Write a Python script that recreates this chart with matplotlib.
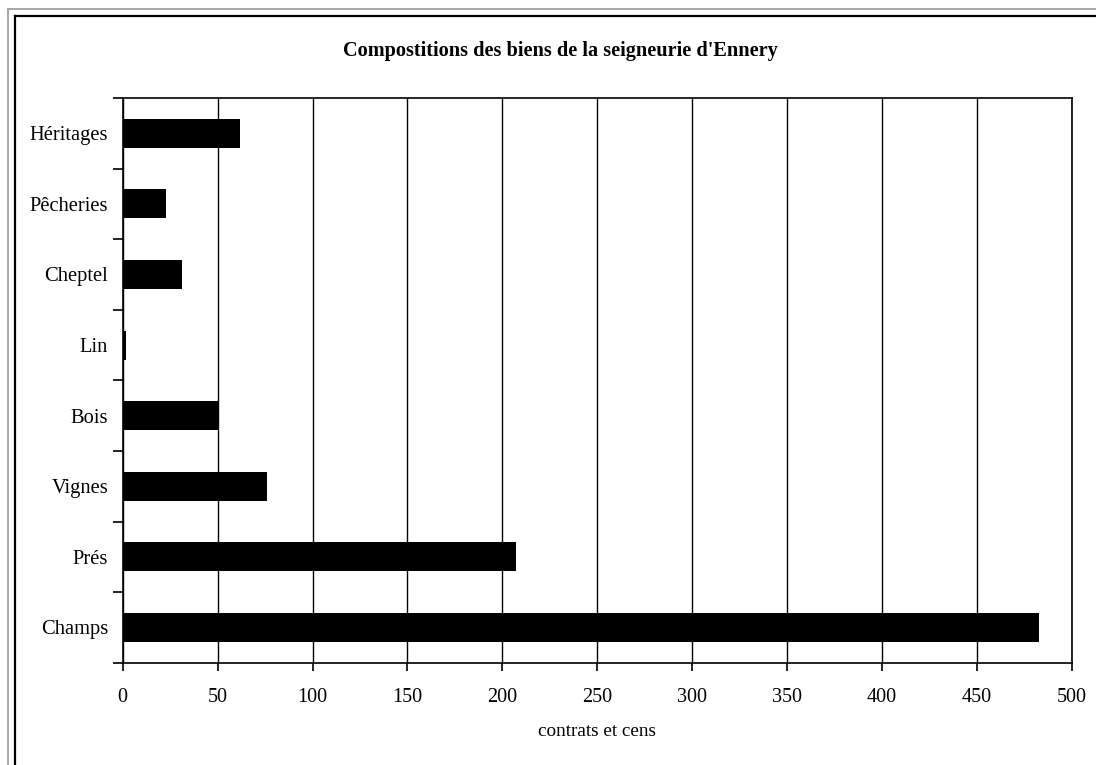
import matplotlib
matplotlib.use("Agg")
import matplotlib.pyplot as plt
from matplotlib.lines import Line2D

categories = ["Champs", "Prés", "Vignes", "Bois", "Lin", "Cheptel", "Pêcheries", "Héritages"]
values = [483, 207, 76, 50, 2, 31, 23, 62]
xticks = [0, 50, 100, 150, 200, 250, 300, 350, 400, 450, 500]

plt.rcParams['font.family'] = ['Liberation Serif', 'DejaVu Serif']

W, H = 1096, 765
fig = plt.figure(figsize=(W/100, H/100), dpi=100)

# outer frames
fig.add_artist(Line2D([8/W, 8/W], [0, 1-9/H], color='#999999', lw=1.2, transform=fig.transFigure))
fig.add_artist(Line2D([8/W, 1], [1-9/H, 1-9/H], color='#999999', lw=1.2, transform=fig.transFigure))
fig.add_artist(Line2D([14.5/W, 14.5/W], [0, 1-16/H], color='black', lw=1.6, transform=fig.transFigure))
fig.add_artist(Line2D([14.5/W, 1], [1-16/H, 1-16/H], color='black', lw=1.6, transform=fig.transFigure))

left, right = 122.7/W, 1071.7/W
top, bottom = 1-98/H, 1-662.7/H
ax = fig.add_axes([left, bottom, right-left, top-bottom])

ypos = list(range(len(categories)))
ax.barh(ypos, values, height=0.41, color='black')
ax.set_xlim(0, 500)
ax.set_ylim(-0.5, len(categories)-0.5)
ax.set_xticks(xticks)
ax.set_xticklabels([str(t) for t in xticks], fontsize=14.5)
ax.set_yticks(ypos)
ax.set_yticklabels(categories, fontsize=14.8)
ax.tick_params(axis='y', which='major', length=0, pad=10.5)
ax.set_yticks([i - 0.5 for i in range(len(categories)+1)], minor=True)
ax.tick_params(axis='y', which='minor', length=7, width=1.2, direction='out')
ax.tick_params(axis='x', length=6, width=1.2, direction='out', pad=12)
ax.xaxis.grid(True, color='black', lw=1.0)
ax.set_axisbelow(True)
for s in ax.spines.values():
    s.set_linewidth(1.2)
ax.set_xlabel("contrats et cens", fontsize=13.8, labelpad=12)
fig.text(560/W, 1-51/H, "Compostitions des biens de la seigneurie d'Ennery",
         ha='center', va='center', fontsize=14.6, fontweight='bold')

fig.savefig("out.png", dpi=100)
